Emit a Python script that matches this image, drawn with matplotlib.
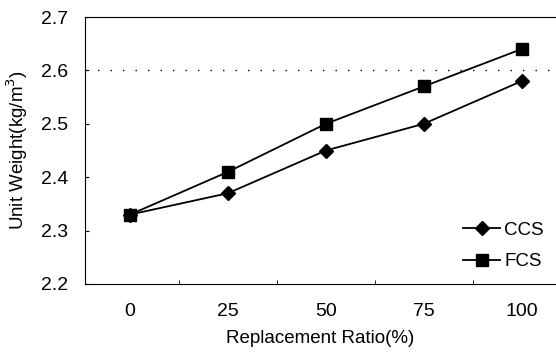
import numpy as np
import matplotlib.pyplot as plt

plt.rcParams['font.family'] = ['Liberation Sans', 'DejaVu Sans']

ratios = ['0', '25', '50', '75', '100']
ccs = [2.33, 2.37, 2.45, 2.50, 2.58]
fcs = [2.33, 2.41, 2.50, 2.57, 2.64]

fig = plt.figure(figsize=(5.56, 3.59), dpi=100)
ax = fig.add_axes([85/556, 1 - 284/359, (555-85)/556, (284-17)/359])

x = np.arange(len(ratios))
ax.plot(x, ccs, color='black', lw=1.3, marker='D', ms=7, label='CCS')
ax.plot(x, fcs, color='black', lw=1.3, marker='s', ms=8.5, label='FCS')
ax.axhline(2.6, color='black', lw=1, ls=(0, (1, 8)))

ax.set_xlim(-0.46, 4.34)
ax.set_ylim(2.2, 2.7)
ax.set_xticks(x)
ax.set_xticklabels(ratios)
ax.set_xticks(x[:-1] + 0.5, minor=True)
ax.set_yticks([2.2, 2.3, 2.4, 2.5, 2.6, 2.7])
ax.tick_params(axis='x', which='major', length=0, pad=14, labelsize=14)
ax.tick_params(axis='x', which='minor', direction='in', length=3)
ax.tick_params(axis='y', direction='in', length=3, pad=12, labelsize=14)
ax.spines['right'].set_visible(False)

ax.set_xlabel('Replacement Ratio(%)', fontsize=13.5, labelpad=7)
ax.set_ylabel('Unit Weight(kg/m$^3$)', fontsize=13.5, labelpad=8)

ax.legend(loc='lower right', frameon=False, fontsize=13.5, handlelength=2.0,
          handletextpad=0.2, labelspacing=0.75, borderaxespad=0.2,
          bbox_to_anchor=(1.0, 0.01))

fig.savefig('out.png', dpi=100)
